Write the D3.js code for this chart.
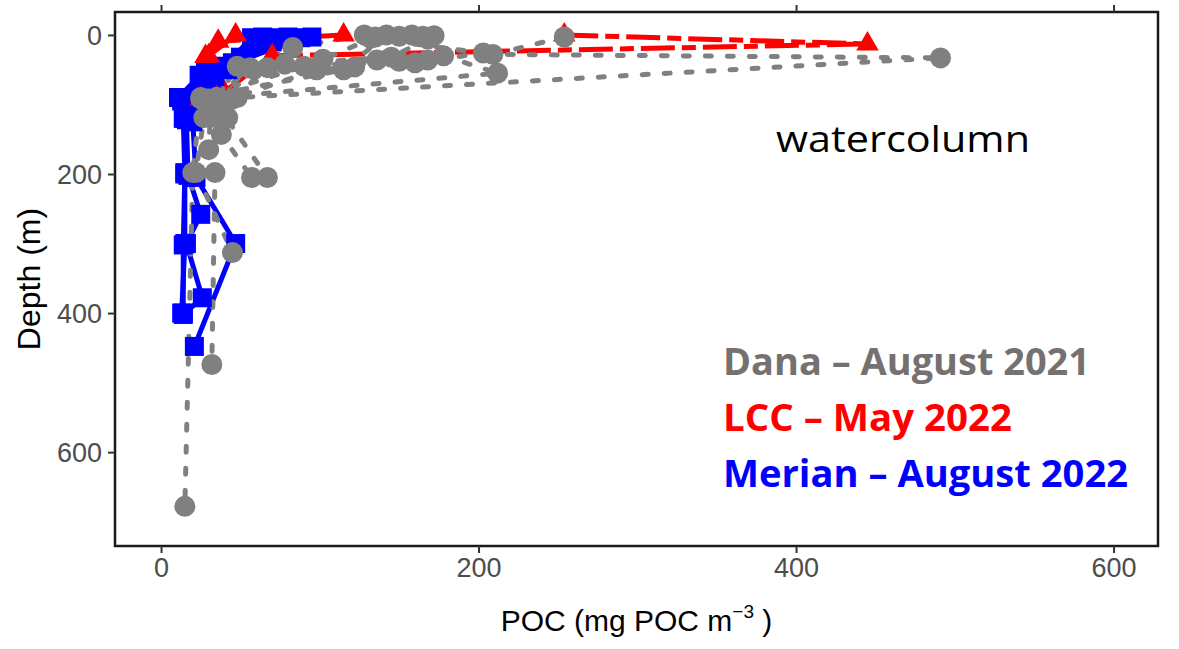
<!DOCTYPE html>
<html>
<head>
<meta charset="utf-8">
<script src="https://cdn.jsdelivr.net/npm/d3@7"></script>
<style>
  body { margin: 0; background: #fff; }
</style>
</head>
<body>
<div id="chart"></div>
<script>
// POC (mg POC m-3) vs depth (m), one array per station profile
// Dana - August 2021
const dana1 = [[254, 3], [209, 28], [491, 33], [48, 90], [41, 119], [67, 205]];
const dana2 = [[172, 1], [178, 30], [212, 55], [35, 90]];
const dana3 = [[165, 2], [168, 36], [90, 45], [25, 92], [31, 119], [30, 165], [34, 198], [32, 474]];
const dana4 = [[158, 0], [150, 38], [67, 47], [45, 92], [42, 119], [38, 143], [57, 205]];
const dana5 = [[150, 2], [136, 36], [56, 47], [35, 90], [27, 119], [22, 198], [45, 313]];
const dana6 = [[142, 0], [115, 50], [25, 90], [20, 198], [15, 678]];
const dana7 = [[135, 3], [102, 35], [48, 45], [35, 92]];
const dana8 = [[128, 0], [83, 18], [56, 48], [30, 92]];
const dana9 = [[168, 6], [145, 32], [78, 42], [28, 92], [37, 120]];
const dana10 = [[132, 5], [203, 26], [160, 40], [122, 46], [98, 50], [40, 95]];
// LCC - May 2022
const lcc1 = [[254, 0], [445, 13], [70, 30], [35, 90]];
const lcc2 = [[115, 0], [36, 9], [28, 31], [25, 92]];
const lcc3 = [[47, 0], [30, 30], [45, 92]];
// Merian - August 2022
const merian1 = [[95, 3], [28, 50], [11, 90], [14, 120], [15, 200], [15, 300], [13, 400]];
const merian2 = [[88, 4], [30, 55], [15, 92], [16, 122], [17, 202], [25, 258], [16, 300], [26, 378], [14, 402]];
const merian3 = [[80, 3], [42, 50], [18, 95], [20, 125], [22, 205], [47, 300], [21, 448]];
const merian4 = [[72, 4], [27, 62], [14, 90], [16, 118], [15, 198], [14, 302], [14, 400]];
const merian5 = [[64, 3], [38, 45], [20, 92], [18, 120]];
const merian6 = [[57, 4], [34, 60], [17, 100]];
const merian7 = [[60, 12], [45, 40], [24, 58], [13, 95]];
const merian8 = [[70, 10], [50, 32], [32, 68], [16, 110]];

const danaProfiles = [dana1, dana2, dana3, dana4, dana5, dana6, dana7, dana8, dana9, dana10];
const lccProfiles = [lcc1, lcc2, lcc3];
const merianProfiles = [merian1, merian2, merian3, merian4, merian5, merian6, merian7, merian8];

const xTicks = [0, 200, 400, 600];
const yTicks = [0, 200, 400, 600];
const legendLabels = ["Dana – August 2021", "LCC – May 2022", "Merian – August 2022"];

const width = 1179, height = 649;
const panelLeft = 115, panelRight = 1158, panelTop = 12, panelBottom = 546;

const svg = d3.select("#chart").append("svg")
  .attr("width", width)
  .attr("height", height)
  .style("font-family", "'Liberation Sans', Arial, sans-serif");

const x = d3.scaleLinear().domain([-29, 628]).range([panelLeft, panelRight]);
const y = d3.scaleLinear().domain([-33, 735]).range([panelTop, panelBottom]);

const line = d3.line()
  .x(d => x(d[0]))
  .y(d => y(d[1]));

// lines first, then the markers (like ggplot layers)
const lineStyles = [
  { data: merianProfiles, color: "#0000ff", width: 5, dash: null, cap: "butt" },
  { data: lccProfiles, color: "#ff0000", width: 5, dash: "34,7,14,7", cap: "butt" },
  { data: danaProfiles, color: "#808080", width: 5, dash: "6,16", cap: "round" }
];

lineStyles.forEach(s => {
  svg.append("g").selectAll("path")
    .data(s.data)
    .join("path")
    .attr("d", line)
    .attr("fill", "none")
    .attr("stroke", s.color)
    .attr("stroke-width", s.width)
    .attr("stroke-linecap", s.cap)
    .attr("stroke-linejoin", "round")
    .attr("stroke-dasharray", s.dash);
});

// Merian squares
svg.append("g").selectAll("rect")
  .data(merianProfiles.flat())
  .join("rect")
  .attr("x", d => x(d[0]) - 9.5)
  .attr("y", d => y(d[1]) - 9.5)
  .attr("width", 19)
  .attr("height", 19)
  .attr("fill", "#0000ff");

// LCC triangles
svg.append("g").selectAll("path")
  .data(lccProfiles.flat())
  .join("path")
  .attr("d", d3.symbol(d3.symbolTriangle, 220))
  .attr("transform", d => `translate(${x(d[0])},${y(d[1])})`)
  .attr("fill", "#ff0000");

// Dana circles
svg.append("g").selectAll("circle")
  .data(danaProfiles.flat())
  .join("circle")
  .attr("cx", d => x(d[0]))
  .attr("cy", d => y(d[1]))
  .attr("r", 10.5)
  .attr("fill", "#808080");

// panel border
svg.append("rect")
  .attr("x", panelLeft)
  .attr("y", panelTop)
  .attr("width", panelRight - panelLeft)
  .attr("height", panelBottom - panelTop)
  .attr("fill", "none")
  .attr("stroke", "#1a1a1a")
  .attr("stroke-width", 2.5);

// axes
const xAxis = svg.append("g")
  .attr("transform", `translate(0,${panelBottom})`)
  .call(d3.axisBottom(x).tickValues(xTicks).tickSize(7).tickPadding(5));

const xAxisTop = svg.append("g")
  .attr("transform", `translate(0,${panelTop})`)
  .call(d3.axisTop(x).tickValues(xTicks).tickSize(7).tickFormat(""));

const yAxis = svg.append("g")
  .attr("transform", `translate(${panelLeft},0)`)
  .call(d3.axisLeft(y).tickValues(yTicks).tickSize(7).tickPadding(6));

[xAxis, xAxisTop, yAxis].forEach(g => {
  g.select(".domain").remove();
  g.selectAll(".tick line").attr("stroke", "#333").attr("stroke-width", 2);
  g.selectAll(".tick text")
    .attr("fill", "#4d4d4d")
    .style("font-size", "27px")
    .style("font-family", "'Liberation Sans', Arial, sans-serif");
});
yAxis.selectAll(".tick text").attr("dy", "0.36em");

// axis titles
svg.append("text")
  .attr("transform", `translate(40,${(panelTop + panelBottom) / 2}) rotate(-90)`)
  .attr("text-anchor", "middle")
  .attr("fill", "#000")
  .style("font-size", "32px")
  .text("Depth (m)");

const xTitle = svg.append("text")
  .attr("x", (panelLeft + panelRight) / 2)
  .attr("y", 631)
  .attr("text-anchor", "middle")
  .attr("fill", "#000")
  .style("font-size", "30px");
xTitle.append("tspan").text("POC (mg POC m");
xTitle.append("tspan").attr("dy", -13).style("font-size", "19px").text("−3");
xTitle.append("tspan").attr("dy", 13).text(" )");

// annotation
svg.append("text")
  .attr("x", 776)
  .attr("y", 152)
  .attr("fill", "#000")
  .attr("textLength", 254)
  .attr("lengthAdjust", "spacingAndGlyphs")
  .style("font-family", "'Open Sans', sans-serif")
  .style("font-size", "37px")
  .text("watercolumn");

// legend text
const legendColors = ["#757171", "#ff0000", "#0000ff"];
const legendWidths = [367, 289, 405];
svg.append("g").selectAll("text")
  .data(legendLabels)
  .join("text")
  .attr("x", 723)
  .attr("y", (d, i) => 375 + i * 56)
  .attr("fill", (d, i) => legendColors[i])
  .attr("textLength", (d, i) => legendWidths[i])
  .attr("lengthAdjust", "spacingAndGlyphs")
  .style("font-family", "'Open Sans', sans-serif")
  .style("font-weight", "bold")
  .style("font-size", "38px")
  .text(d => d);
</script>
</body>
</html>
